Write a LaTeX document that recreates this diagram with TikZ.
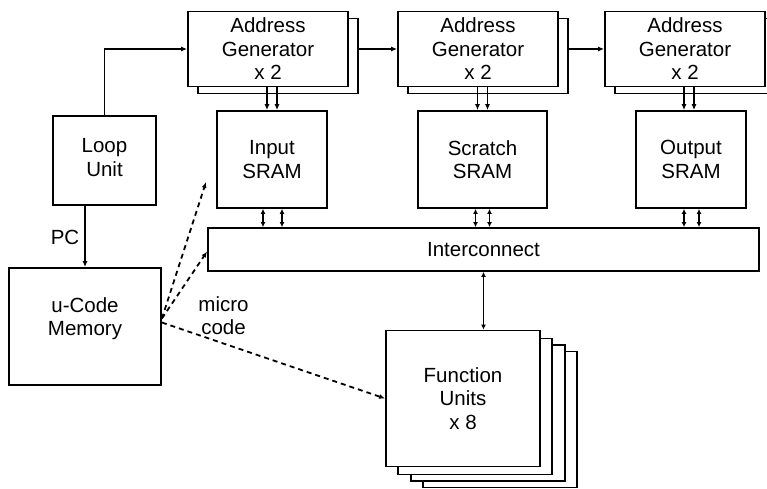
\documentclass[tikz,border=0pt]{standalone}
\usepackage{fontspec}
\setmainfont{Liberation Sans}
\usetikzlibrary{arrows.meta,calc}
\begin{document}
\begin{tikzpicture}[x=1pt,y=-1pt,
  blk/.style={draw, line width=1.8pt, fill=white, rectangle, inner sep=0pt, align=center,
              font=\fontsize{20.5}{23.5}\selectfont},
  lbl/.style={inner sep=0pt, align=center, font=\fontsize{20.5}{23.5}\selectfont},
  arr/.style={line width=1.8pt, -{Latex[length=6pt,width=5pt]}},
  biarr/.style={line width=1.8pt, {Latex[length=5pt,width=5pt]}-{Latex[length=5pt,width=5pt]}},
  darr/.style={line width=1.8pt, dash pattern=on 5pt off 4pt, -{Latex[length=6pt,width=5pt]}}]
\clip (0,0) rectangle (767,489);
\fill[white] (0,0) rectangle (767,489);

% address generators (stacked pairs)
\foreach \n/\cx in {1/268,2/478,3/685}{
  \node[blk, minimum width=160pt, minimum height=75pt] (ag\n s) at (\cx+10,56) {};
  \node[blk, minimum width=160pt, minimum height=75pt] (ag\n) at (\cx,49) {Address\\Generator\\x 2};
}

% SRAM banks
\node[blk, minimum width=110pt, minimum height=97pt] (insram) at (272,159.5) {Input\\SRAM};
\node[blk, minimum width=129pt, minimum height=97pt] (scsram) at (482.5,159.5) {Scratch\\SRAM};
\node[blk, minimum width=110pt, minimum height=97pt] (outsram) at (691,159.5) {Output\\SRAM};

% interconnect
\node[blk, minimum width=551pt, minimum height=43pt] (ic) at (483.5,249.5) {Interconnect};

% control
\node[blk, minimum width=103pt, minimum height=89pt] (loop) at (104.5,160.5) {};
\node[lbl] (looptxt) at (104.5,157.5) {Loop\\Unit};
\node[blk, minimum width=152pt, minimum height=117pt] (ucode) at (85,326.5) {};
\node[lbl] (ucodetxt) at (85,318.5) {u-Code\\Memory};

% function units (stack of copies)
\node[blk, minimum width=154pt, minimum height=136pt] (fu3) at (463+37,398.5+21) {};
\node[blk, minimum width=154pt, minimum height=136pt] (fu2) at (463+25,398.5+14.5) {};
\node[blk, minimum width=154pt, minimum height=136pt] (fu1) at (463+12,398.5+8) {};
\node[blk, minimum width=154pt, minimum height=136pt] (fu) at (463,398.5) {Function\\Units\\x 8};

% labels
\node[lbl] (pc) at (65,237) {PC};
\node[lbl] (mc) at (223.5,315.5) {micro\\code};

% loop unit to first address generator, and the chain along the top
\draw[arr] (loop.north) |- (ag1.west);
\draw[arr] (ag1.east -| ag1s.east) -- (ag2.west);
\draw[arr] (ag2.east -| ag2s.east) -- (ag3.west);
\draw[arr] (loop.south -| ucode.north) -- (ucode.north);

% address generators feed the SRAM banks
\draw[arr] ([xshift=-5pt]insram.north |- ag1.south) -- ([xshift=-5pt]insram.north);
\draw[arr] ([xshift=5pt]insram.north |- ag1.south) -- ([xshift=5pt]insram.north);
\draw[arr] ([xshift=-5pt]scsram.north |- ag2.south) -- ([xshift=-5pt]scsram.north);
\draw[arr] ([xshift=5pt]scsram.north |- ag2.south) -- ([xshift=5pt]scsram.north);
\draw[arr] ([xshift=-7pt]outsram.north |- ag3.south) -- ([xshift=-7pt]outsram.north);
\draw[arr] ([xshift=3pt]outsram.north |- ag3.south) -- ([xshift=3pt]outsram.north);

% SRAM <-> interconnect
\draw[biarr] ([xshift=-9pt]insram.south) -- ([xshift=-9pt]insram.south |- ic.north);
\draw[biarr] ([xshift=10pt]insram.south) -- ([xshift=10pt]insram.south |- ic.north);
\draw[biarr] ([xshift=-7pt]scsram.south) -- ([xshift=-7pt]scsram.south |- ic.north);
\draw[biarr] ([xshift=7pt]scsram.south) -- ([xshift=7pt]scsram.south |- ic.north);
\draw[biarr] ([xshift=-7pt]outsram.south) -- ([xshift=-7pt]outsram.south |- ic.north);
\draw[biarr] ([xshift=8pt]outsram.south) -- ([xshift=8pt]outsram.south |- ic.north);

% interconnect <-> function units
\draw[biarr] (ic.south) -- (ic.south |- fu.north);

% microcode distribution
\coordinate (mctip) at (206,182);
\draw[darr] ([yshift=8pt]ucode.east) -- (mctip);
\draw[darr] ([yshift=8pt]ucode.east) -- ([yshift=-2pt]ic.west);
\draw[darr] ([yshift=4pt]ucode.east) -- (fu.west);
\end{tikzpicture}
\end{document}
